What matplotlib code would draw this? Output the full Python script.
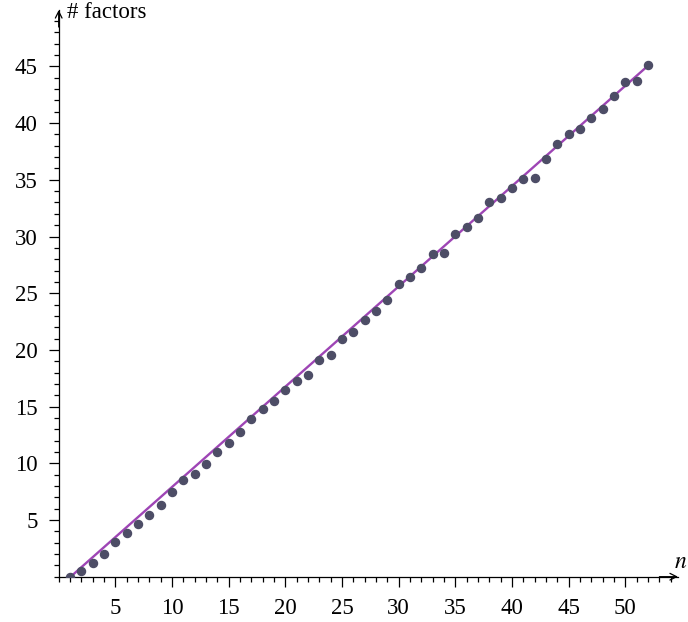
import matplotlib
matplotlib.use("Agg")
import matplotlib.pyplot as plt
from matplotlib.ticker import MultipleLocator

n_values = list(range(1, 53))
factors = [0.0, 0.5, 1.23, 2.0, 3.03, 3.88, 4.62, 5.47, 6.35, 7.47,
           8.5, 9.03, 9.97, 11.0, 11.77, 12.76, 13.88, 14.81, 15.52, 16.49,
           17.23, 17.76, 19.11, 19.58, 20.96, 21.6, 22.66, 23.43, 24.4, 25.78,
           26.43, 27.2, 28.46, 28.57, 30.19, 30.84, 31.6, 33.0, 33.37, 34.28,
           35.1, 35.2, 36.82, 38.2, 39.0, 39.45, 40.42, 41.27, 42.39, 43.6,
           43.74, 45.12]
fit_n = [1, 52]
fit_v = [-0.05, 45.05]
x_ticks = [5, 10, 15, 20, 25, 30, 35, 40, 45, 50]
y_ticks = [5, 10, 15, 20, 25, 30, 35, 40, 45]

plt.rcParams['font.family'] = ['Liberation Serif', 'DejaVu Serif']
plt.rcParams['mathtext.fontset'] = 'stix'

fig = plt.figure(figsize=(6.88, 6.22), dpi=100)
ax = fig.add_axes([58.7/688, (622-576.7)/622, (678-58.7)/688, (576.7-10)/622])

ax.plot(fit_n, fit_v, color='#9e45b5', lw=1.7, zorder=2)
ax.plot(n_values, factors, 'o', color='#4d4d66', markersize=5.8, zorder=3)

ax.set_xlim(0, (678-58.7)/11.33)
ax.set_ylim(0, (576.7-10)/11.34)
ax.set_xticks(x_ticks)
ax.set_yticks(y_ticks)
ax.xaxis.set_minor_locator(MultipleLocator(1))
ax.yaxis.set_minor_locator(MultipleLocator(1))
ax.tick_params(which='major', length=7, width=0.9, labelsize=16.5, pad=8)
ax.tick_params(which='minor', length=3.5, width=0.9)

for s in ['top', 'right']:
    ax.spines[s].set_visible(False)
for s in ['left', 'bottom']:
    ax.spines[s].set_linewidth(0.9)

ax.annotate('', xy=(1.0, 0), xytext=(0.97, 0), xycoords='axes fraction',
            arrowprops=dict(arrowstyle='->', lw=0.9, color='black',
                            shrinkA=0, shrinkB=0, mutation_scale=12))
ax.annotate('', xy=(0, 1.0), xytext=(0, 0.97), xycoords='axes fraction',
            arrowprops=dict(arrowstyle='->', lw=0.9, color='black',
                            shrinkA=0, shrinkB=0, mutation_scale=12))

fig.text(67/688, 1 - 13/622, '# factors', fontsize=16.5, ha='left', va='center')
fig.text(681/688, 1 - 562/622, r'$n$', fontsize=17, ha='center', va='center')

fig.savefig('out.png', dpi=100)
